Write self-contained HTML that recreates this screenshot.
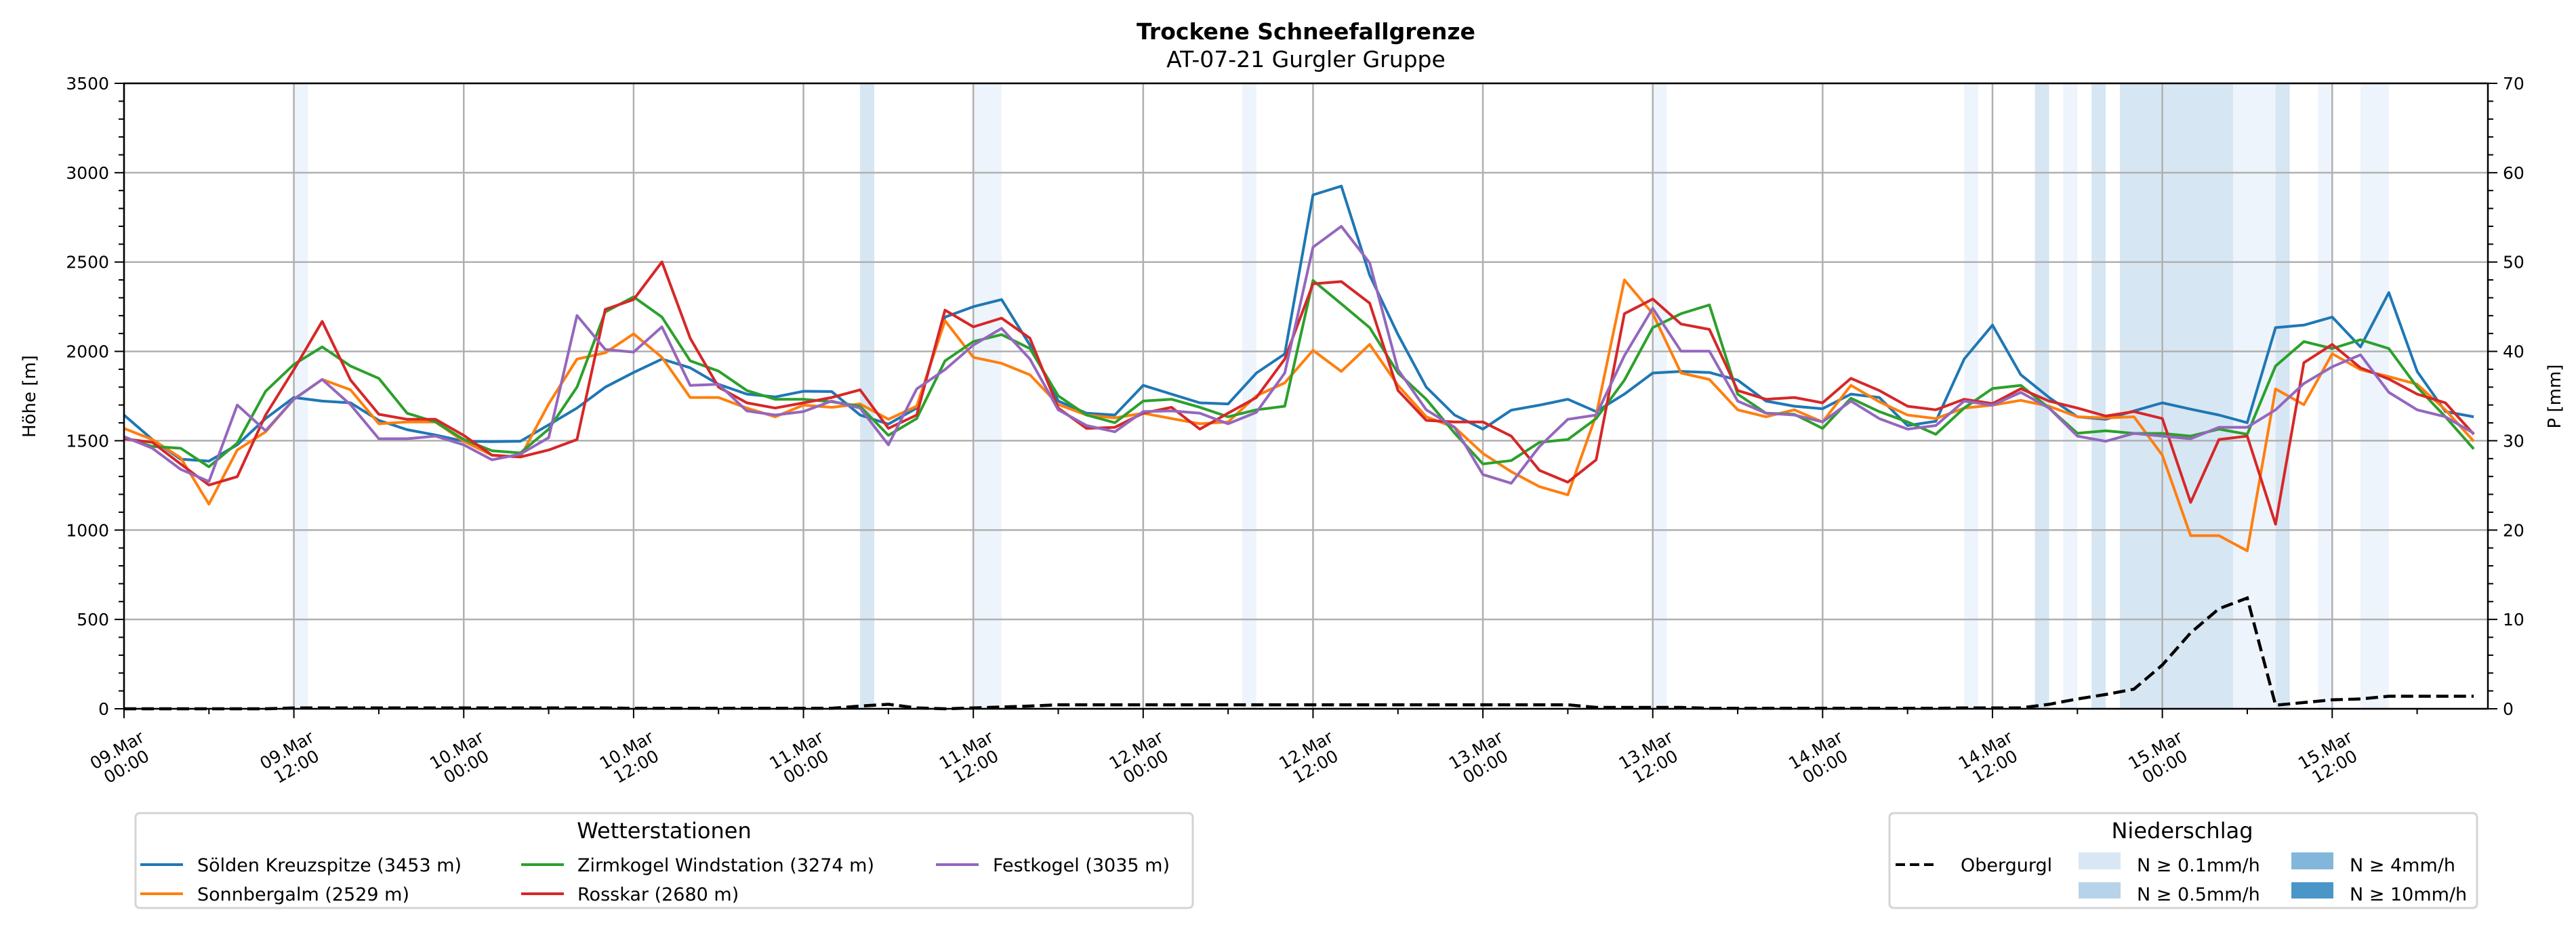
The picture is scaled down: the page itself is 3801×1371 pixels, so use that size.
<!DOCTYPE html>
<html><head><meta charset="utf-8"><style>
html,body{margin:0;padding:0;background:#fff;}
svg{display:block;font-family:"DejaVu Sans","Liberation Sans",sans-serif;}
</style></head><body>
<svg id="chart" width="3801" height="1371" viewBox="0 0 3801 1371" xmlns="http://www.w3.org/2000/svg">
<text x="1927" y="58" text-anchor="middle" font-size="33" font-weight="bold">Trockene Schneefallgrenze</text>
<text x="1927" y="99" text-anchor="middle" font-size="33">AT-07-21 Gurgler Gruppe</text>
<g id="bands"></g>
<g id="grid"></g>
<g id="series"></g>
<g id="axes"></g>
<text transform="translate(52,585) rotate(-90)" text-anchor="middle" font-size="26">Höhe [m]</text>
<text transform="translate(3778,585) rotate(-90)" text-anchor="middle" font-size="26">P [mm]</text>
<g>
<rect x="200" y="1200" width="1560" height="140" rx="6" fill="#fff" stroke="#d4d4d4" stroke-width="3"/>
<text x="980" y="1237" text-anchor="middle" font-size="32">Wetterstationen</text>
<g><line x1="207" y1="1276" x2="270" y2="1276" stroke="#1f77b4" stroke-width="4"/><text x="291" y="1286" font-size="27">Sölden Kreuzspitze (3453 m)</text></g>
<g><line x1="207" y1="1319" x2="270" y2="1319" stroke="#ff7f0e" stroke-width="4"/><text x="291" y="1329" font-size="27">Sonnbergalm (2529 m)</text></g>
<g><line x1="769" y1="1276" x2="832" y2="1276" stroke="#2ca02c" stroke-width="4"/><text x="852" y="1286" font-size="27">Zirmkogel Windstation (3274 m)</text></g>
<g><line x1="769" y1="1319" x2="832" y2="1319" stroke="#d62728" stroke-width="4"/><text x="852" y="1329" font-size="27">Rosskar (2680 m)</text></g>
<g><line x1="1381" y1="1276" x2="1444" y2="1276" stroke="#9467bd" stroke-width="4"/><text x="1465" y="1286" font-size="27">Festkogel (3035 m)</text></g>
</g>
<g>
<rect x="2788" y="1200" width="867" height="140" rx="6" fill="#fff" stroke="#d4d4d4" stroke-width="3"/>
<text x="3220" y="1237" text-anchor="middle" font-size="32">Niederschlag</text>
<g><line x1="2797" y1="1276" x2="2858" y2="1276" stroke="#000" stroke-width="4" stroke-dasharray="14 7"/><text x="2893" y="1286" font-size="27">Obergurgl</text></g>
<g><rect x="3067" y="1258" width="62" height="25" fill="#d9e7f4"/><text x="3153" y="1286" font-size="27">N ≥ 0.1mm/h</text></g>
<g><rect x="3067" y="1302" width="62" height="24" fill="#b6d3ea"/><text x="3153" y="1329" font-size="27">N ≥ 0.5mm/h</text></g>
<g><rect x="3381" y="1258" width="62" height="25" fill="#82b7db"/><text x="3467" y="1286" font-size="27">N ≥ 4mm/h</text></g>
<g><rect x="3381" y="1302" width="62" height="24" fill="#4a96c8"/><text x="3467" y="1329" font-size="27">N ≥ 10mm/h</text></g>
</g>
</svg>
<script>
const hours=[0,2,4,6,8,10,12,14,16,18,20,22,24,26,28,30,32,34,36,38,40,42,44,46,48,50,52,54,56,58,60,62,64,66,68,70,72,74,76,78,80,82,84,86,88,90,92,94,96,98,100,102,104,106,108,110,112,114,116,118,120,122,124,126,128,130,132,134,136,138,140,142,144,146,148,150,152,154,156,158,160,162,164,166];
const soelden=[1644,1507,1397,1386,1477,1624,1742,1722,1712,1614,1562,1532,1497,1495,1497,1589,1683,1800,1882,1957,1908,1816,1761,1745,1777,1775,1644,1593,1683,2192,2250,2290,2035,1722,1654,1644,1810,1761,1712,1706,1879,1986,2876,2925,2427,2094,1800,1644,1565,1671,1699,1732,1663,1761,1879,1888,1882,1839,1722,1693,1679,1761,1742,1585,1609,1957,2147,1869,1742,1634,1620,1667,1712,1677,1644,1601,2133,2147,2192,2025,2329,1888,1663,1634];
const sonnbergalm=[1569,1507,1405,1145,1448,1550,1732,1843,1785,1595,1605,1605,1497,1419,1409,1706,1957,1992,2098,1967,1742,1742,1683,1634,1699,1687,1706,1620,1693,2172,1967,1933,1869,1703,1644,1628,1654,1624,1595,1605,1751,1824,2006,1888,2039,1810,1634,1575,1429,1327,1243,1197,1644,2400,2211,1879,1843,1673,1634,1673,1605,1810,1718,1644,1624,1683,1699,1726,1693,1634,1628,1634,1419,969,969,884,1790,1702,1987,1898,1859,1816,1673,1497];
const zirmkogel=[1517,1468,1458,1354,1487,1777,1927,2025,1918,1849,1654,1605,1507,1444,1432,1565,1800,2221,2305,2192,1947,1890,1781,1732,1732,1718,1693,1530,1624,1947,2055,2094,2016,1751,1644,1601,1722,1732,1687,1634,1673,1693,2397,2266,2133,1879,1732,1543,1370,1389,1491,1507,1624,1839,2133,2211,2260,1761,1654,1648,1569,1738,1663,1605,1536,1683,1792,1810,1683,1542,1556,1541,1541,1526,1565,1536,1918,2055,2016,2065,2016,1800,1634,1454];
const rosskar=[1511,1491,1370,1252,1299,1644,1898,2168,1840,1648,1620,1620,1530,1419,1409,1448,1507,2235,2290,2501,2074,1800,1712,1683,1712,1742,1785,1569,1644,2231,2137,2186,2074,1683,1569,1575,1654,1687,1565,1654,1742,1957,2378,2391,2270,1781,1614,1605,1605,1526,1334,1268,1393,2211,2293,2153,2123,1781,1732,1742,1712,1849,1781,1693,1673,1732,1708,1791,1722,1683,1638,1663,1624,1155,1507,1526,1033,1937,2039,1908,1845,1761,1712,1536];
const festkogel=[1523,1458,1340,1272,1700,1556,1732,1843,1702,1511,1511,1526,1477,1393,1425,1517,2201,2011,1996,2137,1810,1816,1667,1644,1663,1722,1683,1477,1790,1898,2035,2129,1957,1673,1585,1550,1663,1667,1654,1595,1659,1879,2583,2700,2495,1898,1673,1575,1311,1262,1468,1620,1644,1976,2241,2001,2001,1722,1654,1644,1605,1722,1624,1565,1585,1722,1699,1771,1683,1526,1497,1541,1526,1511,1575,1575,1673,1820,1914,1981,1771,1673,1634,1542];
const obergurgl=[0,0,0,0,0,0,0.1,0.1,0.1,0.1,0.1,0.1,0.1,0.1,0.1,0.1,0.1,0.1,0.05,0.05,0.05,0.05,0.05,0.05,0.05,0.05,0.3,0.5,0.1,0,0.1,0.2,0.3,0.45,0.45,0.45,0.45,0.45,0.45,0.45,0.45,0.45,0.45,0.45,0.45,0.45,0.45,0.45,0.45,0.45,0.45,0.45,0.15,0.15,0.15,0.15,0.05,0.05,0.05,0.05,0.05,0.05,0.05,0.05,0.05,0.1,0.1,0.1,0.5,1.1,1.6,2.2,4.9,8.5,11.2,12.4,0.4,0.7,1.0,1.1,1.4,1.4,1.4,1.4];
const bandStart=[12,52,60,79,108,130,135,137,139,141,149,152,155,158];
const bandEnd=[13,53,62,80,109,131,136,138,140,149,152,153,156,160];
const bandLevel=[1,2,1,1,1,1,2,1,2,2,1,2,1,1];
const yTicks=[0,500,1000,1500,2000,2500,3000,3500];
const y2Ticks=[0,10,20,30,40,50,60,70];
const xTickDays=["09.Mar","09.Mar","10.Mar","10.Mar","11.Mar","11.Mar","12.Mar","12.Mar","13.Mar","13.Mar","14.Mar","14.Mar","15.Mar","15.Mar"];
const xTickTimes=["00:00","12:00","00:00","12:00","00:00","12:00","00:00","12:00","00:00","12:00","00:00","12:00","00:00","12:00"];

const L=183,R=3671,T=123,B=1046,HMAX=167;
const X=h=>L+h*(R-L)/HMAX;
const Y=v=>B-v*(B-T)/3500;
const Y2=v=>B-v*(B-T)/70;
const NS="http://www.w3.org/2000/svg";
function mk(tag,attrs,parent){const e=document.createElementNS(NS,tag);for(const k in attrs)e.setAttribute(k,attrs[k]);parent.appendChild(e);return e;}
const gB=document.getElementById('bands'),gG=document.getElementById('grid'),gS=document.getElementById('series'),gA=document.getElementById('axes');
const bandCols={1:"#eef4fb",2:"#d7e6f3",3:"#a9cce6",4:"#6aa8d4"};
for(let i=0;i<bandStart.length;i++){
  const r=mk('rect',{x:X(bandStart[i]),y:T,width:X(bandEnd[i])-X(bandStart[i]),height:B-T,fill:bandCols[bandLevel[i]]},gB);
  
  
}
yTicks.forEach(v=>{const l=mk('line',{x1:L,x2:R,y1:Y(v),y2:Y(v),stroke:"#b0b0b0","stroke-width":2.5},gG);
  
  });
xTickDays.forEach((d,i)=>{const x=X(i*12);const l=mk('line',{x1:x,x2:x,y1:T,y2:B,stroke:"#b0b0b0","stroke-width":2.5},gG);
  
  });
const series=[[soelden,"#1f77b4","soelden-line"],[sonnbergalm,"#ff7f0e","sonnbergalm-line"],[zirmkogel,"#2ca02c","zirmkogel-line"],[rosskar,"#d62728","rosskar-line"],[festkogel,"#9467bd","festkogel-line"]];
series.forEach(([vals,col,name])=>{
  const p=mk('polyline',{points:vals.map((v,i)=>X(hours[i]).toFixed(1)+","+Y(v).toFixed(1)).join(" "),fill:"none",stroke:col,"stroke-width":4,"stroke-linejoin":"round"},gS);
  
  
});
const pp=mk('polyline',{points:obergurgl.map((v,i)=>X(hours[i]).toFixed(1)+","+Y2(v).toFixed(1)).join(" "),fill:"none",stroke:"#000","stroke-width":4.5,"stroke-dasharray":"18 8"},gS);


const fr=mk('rect',{x:L,y:T,width:R-L,height:B-T,fill:"none",stroke:"#000","stroke-width":2.5},gA);


for(let v=0;v<=3500;v+=100){const major=v%500===0;mk('line',{x1:L-(major?14:8),x2:L,y1:Y(v),y2:Y(v),stroke:"#000","stroke-width":2},gA);}
yTicks.forEach(v=>{const t=mk('text',{x:L-22,y:Y(v)+9,"text-anchor":"end","font-size":25},gA);t.textContent=v;
  
  });
for(let v=0;v<=70;v+=2){const major=v%10===0;mk('line',{x1:R,x2:R+(major?14:8),y1:Y2(v),y2:Y2(v),stroke:"#000","stroke-width":2},gA);}
y2Ticks.forEach(v=>{const t=mk('text',{x:R+22,y:Y2(v)+9,"font-size":25},gA);t.textContent=v;
  
  });
for(let h=0;h<=HMAX;h+=6){const major=h%12===0;mk('line',{x1:X(h),x2:X(h),y1:B,y2:B+(major?14:8),stroke:"#000","stroke-width":2},gA);}
xTickDays.forEach((d,i)=>{const x=X(i*12);
  const t=mk('text',{transform:`translate(${x-4},1118) rotate(-30)`,"text-anchor":"middle","font-size":25},gA);
  
  
  const a=mk('tspan',{x:0,y:-4},t);a.textContent=d;
  const b=mk('tspan',{x:0,y:24},t);b.textContent=xTickTimes[i];
});
</script>
</body></html>
